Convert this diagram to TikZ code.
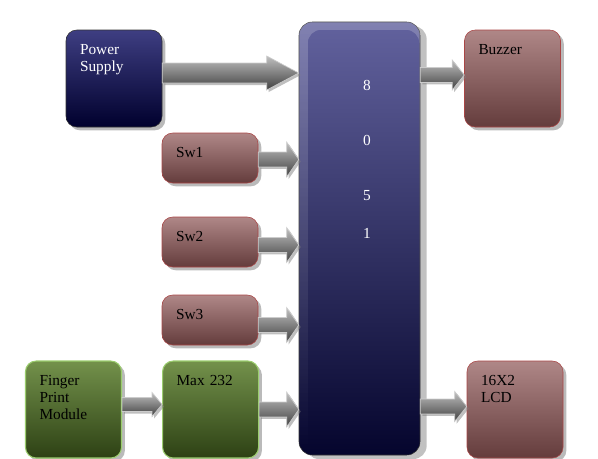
\documentclass[tikz,border=0pt]{standalone}
\usepackage{fontspec}
\setmainfont{Liberation Serif}
\usetikzlibrary{positioning, calc, shadows, fadings}
\definecolor{navytop}{RGB}{62,62,130}
\definecolor{navybot}{RGB}{0,0,45}
\definecolor{chiptop}{RGB}{98,98,158}
\definecolor{chipbot}{RGB}{5,5,45}
\definecolor{pinktop}{RGB}{175,135,135}
\definecolor{pinkbot}{RGB}{100,60,60}
\definecolor{pinkline}{RGB}{170,70,70}
\definecolor{greentop}{RGB}{115,145,75}
\definecolor{greenbot}{RGB}{45,65,20}
\definecolor{greenline}{RGB}{155,205,110}

% block arrow: start, end, shaft half width, head half width, head length
\newcommand\blockarrow[5]{%
  \path[arrowbody] let \p1=(#1), \p2=(#2) in
    (\x1,\y1+#3) -- (\x2-#5,\y1+#3) -- (\x2-#5,\y1+#4) -- (\x2,\y1)
    -- (\x2-#5,\y1-#4) -- (\x2-#5,\y1-#3) -- (\x1,\y1-#3) -- cycle;}

\begin{document}
\begin{tikzpicture}[x=0.75pt, y=-0.75pt, node distance=30pt,
		base/.style = {rounded corners=8pt, font=\fontsize{11.5pt}{13pt}\selectfont, align=left,
			inner xsep=10.5pt, inner ysep=10pt, text height=8pt,
			drop shadow={shadow xshift=2.5pt, shadow yshift=-2.5pt, fill=black!45, opacity=.6}},
		bigbox/.style = {base, minimum width=72pt, minimum height=72.75pt, text width=51pt, text depth=44.75pt},
		swbox/.style = {base, minimum width=72pt, minimum height=37.5pt, text width=51pt, text depth=9.5pt},
		navy/.style = {top color=navytop, bottom color=navybot, draw=black!80, text=white},
		pink/.style = {top color=pinktop, bottom color=pinkbot, draw=pinkline},
		green/.style = {top color=greentop, bottom color=greenbot, draw=greenline, line width=0.8pt},
		chip/.style = {rounded corners=10pt, top color=chiptop, bottom color=chipbot, draw=black!80, text=white,
			font=\fontsize{11.5pt}{13pt}\selectfont, align=right, text width=17pt,
			minimum width=90.75pt, minimum height=324.75pt, inner ysep=10pt, text height=41pt, text depth=263.75pt,
			drop shadow={shadow xshift=5pt, shadow yshift=-3pt, fill=black!30, opacity=.8}},
		arrowbody/.style = {top color=black!25, bottom color=black!75, draw=white!80!black, line width=0.5pt,
			drop shadow={shadow xshift=1.5pt, shadow yshift=-1.5pt, fill=black!50, opacity=.5}}
		]
		\useasboundingbox (0,0) rectangle (598,458);
		
		\node (mcu) [chip] at (359.5,238.5) {8\\[28.5pt]0\\[28.5pt]5\\[15pt]1};
		% light rim along the top and left of the chip, fading downwards
		\fill[white, opacity=.2, even odd rule, rounded corners=10pt, path fading=south]
			(mcu.north west) rectangle (mcu.south east)
			($(mcu.north west)+(9,8)$) rectangle ($(mcu.south east)+(-1,-1)$);
		\node (ps) [bigbox, navy] at (114,78.5) {Power\\Supply};
		\node (sw1) [swbox, pink] at (210,158) {Sw1};
		\node (sw2) [swbox, pink] at (210,242) {Sw2};
		\node (sw3) [swbox, pink] at (210,320) {Sw3};
		\node (fp) [bigbox, green] at (73.5,409.5) {Finger\\Print\\Module};
		\node (max) [bigbox, green, right=of fp] {Max 232};
		\node (buzz) [bigbox, pink] at (512.5,78.5) {Buzzer};
		\node (lcd) [bigbox, pink] at (515,409.5) {16X2\\LCD};
		
		\blockarrow{$(ps.east)+(0,-5.5)$}{mcu.west}{7.5pt}{12.75pt}{24pt}
		\blockarrow{$(sw1.east)+(0,1.5)$}{mcu.west}{5.6pt}{13pt}{9pt}
		\blockarrow{$(sw2.east)+(0,3)$}{mcu.west}{5.6pt}{13pt}{9pt}
		\blockarrow{$(sw3.east)+(0,5)$}{mcu.west}{5.6pt}{13pt}{9pt}
		\blockarrow{max.east}{mcu.west}{5.6pt}{13pt}{9pt}
		\blockarrow{$(fp.east)+(0,-5)$}{max.west}{5.25pt}{9pt}{7.5pt}
		\blockarrow{$(mcu.east |- buzz.west)+(0,-3.5)$}{buzz.west}{5.6pt}{11.25pt}{9pt}
		\blockarrow{$(mcu.east |- lcd.west)+(0,-3)$}{lcd.west}{5.6pt}{11.25pt}{9pt}
	\end{tikzpicture}
\end{document}
